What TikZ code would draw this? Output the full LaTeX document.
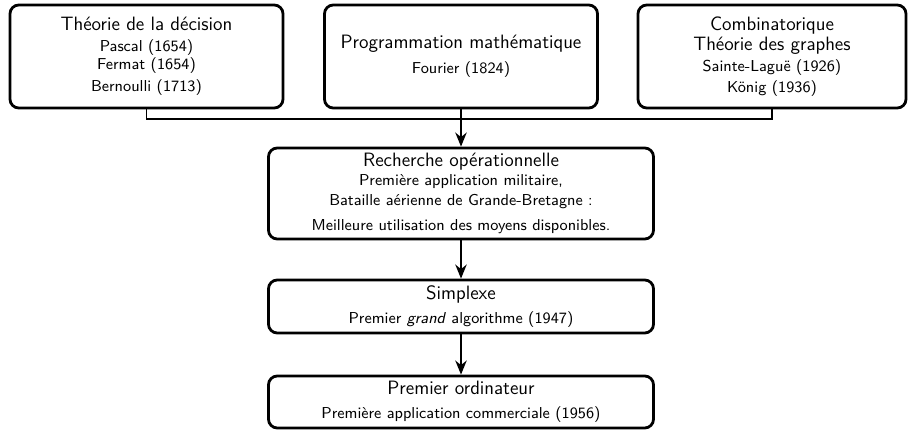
\documentclass[tikz,border=0pt]{standalone}
\usepackage{fontspec}
\usetikzlibrary{arrows.meta}

\newcommand{\petit}[1]{{\fontsize{9}{10}\selectfont #1}}

\begin{document}
\begin{tikzpicture}[
        box/.style={draw, line width=1.6pt, rounded corners=5pt, align=center, inner sep=0pt,
            font=\sffamily\fontsize{11}{10.5}\selectfont},
        link/.style={line width=1pt},
        flow/.style={line width=1pt, -{Stealth[length=8pt, width=6.5pt]}}
    ]
        \useasboundingbox (0,0) rectangle (18.2,-8.6);

        % Les trois origines
        \node[box, minimum width=5.46cm, minimum height=2.06cm] (decision) at (2.93,-1.13)
            {Théorie de la décision\\[1pt] \petit{Pascal (1654)}\\ \petit{Fermat (1654)}\\[2pt] \petit{Bernoulli (1713)}};
        \node[box, minimum width=5.46cm, minimum height=2.06cm] (progmath) at (9.22,-1.13)
            {Programmation mathématique\\[3.5pt] \petit{Fourier (1824)}};
        \node[box, minimum width=5.36cm, minimum height=2.06cm] (graphes) at (15.44,-1.13)
            {Combinatorique\\[1pt] Théorie des graphes\\[1pt] \petit{Sainte-Laguë (1926)}\\[1.5pt] \petit{König (1936)}};

        % La suite chronologique
        \node[box, minimum width=7.7cm, minimum height=1.82cm] (ro) at (9.22,-3.87)
            {Recherche opérationnelle\\[0.5pt] \petit{Première application militaire,}\\[0.5pt]
             \petit{Bataille aérienne de Grande-Bretagne :}\\[4pt] \petit{Meilleure utilisation des moyens disponibles.}};
        \node[box, minimum width=7.7cm, minimum height=1.06cm] (simplexe) at (9.22,-6.13)
            {Simplexe\\[3.5pt] \petit{Premier \textit{grand} algorithme (1947)}};
        \node[box, minimum width=7.7cm, minimum height=1.04cm] (ordi) at (9.22,-8.04)
            {Premier ordinateur\\[3pt] \petit{Première application commerciale (1956)}};

        % Jonction des branches
        \coordinate (jonction) at (9.22,-2.38);
        \draw[link] (decision.south) |- (jonction) -| (graphes.south);

        % Fleches
        \draw[flow] (progmath) -- (ro);
        \draw[flow] (ro) -- (simplexe);
        \draw[flow] (simplexe) -- (ordi);
    \end{tikzpicture}
\end{document}
